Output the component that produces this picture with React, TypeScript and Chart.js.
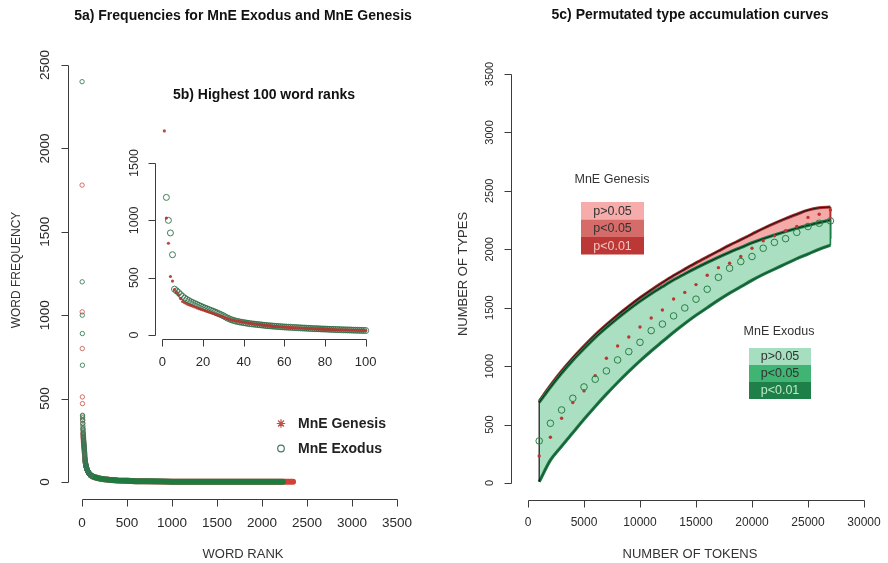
import React, { useEffect, useRef } from "react";
import { Chart, registerables } from "chart.js";

Chart.register(...registerables);

const W = 888;
const H = 563;
const SANS = '"Liberation Sans", Arial, Helvetica, sans-serif';

// ---------- 5a / 5b: rank-frequency profiles ----------
const exodusTop100 = [
  2400, 1200, 1000, 890, 700, 400, 385, 370, 352, 336,
  322, 310, 300, 290, 282, 274, 266, 258, 250, 242,
  235, 228, 221, 214, 207, 200, 192, 184, 176, 168,
  158, 148, 140, 133, 127, 122, 118, 114, 111, 108,
  105, 102, 99, 97, 95, 93, 91, 89, 87, 85,
  83, 81, 80, 78, 77, 75, 74, 73, 71, 70,
  69, 68, 67, 66, 65, 64, 63, 62, 61, 60,
  59, 58, 57, 56, 55, 55, 54, 53, 52, 52,
  51, 50, 49, 49, 48, 47, 47, 46, 45, 45,
  44, 44, 43, 42, 42, 41, 41, 40, 40, 39,
];
const genesisTop100 = [
  1780, 1020, 800, 510, 470, 395, 372, 350, 318, 292,
  282, 272, 264, 258, 251, 244, 237, 230, 224, 218,
  212, 206, 200, 194, 188, 182, 176, 170, 164, 158,
  150, 143, 137, 132, 128, 124, 120, 117, 114, 111,
  108, 105, 102, 99, 96, 94, 92, 90, 88, 86,
  84, 82, 80, 78, 76, 75, 73, 72, 70, 69,
  68, 66, 65, 64, 63, 62, 61, 60, 59, 58,
  57, 56, 55, 55, 54, 53, 52, 52, 51, 50,
  50, 49, 48, 48, 47, 46, 46, 45, 45, 44,
  44, 43, 43, 42, 42, 41, 41, 40, 40, 39,
];
// long tail beyond rank 100 (rank, frequency)
const exodusTailRank = [100, 120, 150, 200, 250, 300, 400, 500, 600, 700, 800, 900, 1000, 1200, 1400, 1600, 1800, 2000, 2233];
const exodusTailFreq = [39, 33, 27, 20, 16, 13, 9, 7, 5, 4, 4, 3, 2, 2, 1, 1, 1, 1, 1];
const genesisTailRank = [100, 120, 150, 200, 250, 300, 400, 500, 600, 700, 800, 900, 1000, 1200, 1400, 1600, 1800, 2000, 2200, 2345];
const genesisTailFreq = [39, 33, 27, 21, 16, 13, 9, 7, 5, 4, 3, 3, 2, 2, 1, 1, 1, 1, 1, 1];

const rankTicks = [0, 500, 1000, 1500, 2000, 2500, 3000, 3500];
const freqTicks = [0, 500, 1000, 1500, 2000, 2500];
const insetRankTicks = [0, 20, 40, 60, 80, 100];
const insetFreqTicks = [0, 500, 1000, 1500];

// ---------- 5c: permutated type accumulation ----------
const tokens = [
  1000, 2000, 3000, 4000, 5000, 6000, 7000, 8000, 9000, 10000,
  11000, 12000, 13000, 14000, 15000, 16000, 17000, 18000, 19000, 20000,
  21000, 22000, 23000, 24000, 25000, 26000, 27000,
];
const exodusTypes = [
  360, 511, 625, 725, 822, 888, 959, 1053, 1124, 1204,
  1304, 1360, 1430, 1498, 1573, 1658, 1760, 1838, 1895, 1938,
  2009, 2059, 2091, 2145, 2195, 2223, 2243,
];
const genesisTypes = [
  231, 391, 554, 688, 788, 919, 1067, 1173, 1250, 1335,
  1412, 1481, 1575, 1631, 1698, 1778, 1843, 1881, 1938, 2009,
  2072, 2115, 2158, 2195, 2273, 2300, 2337,
];
const exodusUpper = [
  690, 820, 940, 1050, 1150, 1245, 1330, 1410, 1485, 1555,
  1620, 1680, 1738, 1790, 1840, 1887, 1932, 1975, 2015, 2055,
  2090, 2122, 2152, 2180, 2205, 2228, 2250,
];
const exodusLower = [
  10, 195, 315, 430, 545, 655, 760, 860, 955, 1045,
  1130, 1210, 1290, 1365, 1435, 1500, 1565, 1625, 1680, 1735,
  1785, 1830, 1875, 1920, 1960, 2000, 2035,
];
const genesisUpper = [
  700, 835, 958, 1070, 1172, 1268, 1355, 1437, 1513, 1585,
  1652, 1715, 1775, 1830, 1884, 1935, 1985, 2035, 2082, 2130,
  2178, 2222, 2263, 2300, 2335, 2355, 2362,
];
const genesisLower = [
  60, 250, 375, 490, 600, 710, 815, 915, 1010, 1100,
  1185, 1265, 1345, 1420, 1490, 1555, 1620, 1680, 1735, 1790,
  1840, 1885, 1930, 1975, 2015, 2055, 2090,
];
const tokenTicks = [0, 5000, 10000, 15000, 20000, 25000, 30000];
const typeTicks = [0, 500, 1000, 1500, 2000, 2500, 3000, 3500];
const pLevels = ["p>0.05", "p<0.05", "p<0.01"];
const genesisLevelColors = ["rgb(246,172,170)", "rgb(214,108,106)", "rgb(188,56,54)"];
const exodusLevelColors = ["rgb(166,222,192)", "rgb(64,180,114)", "rgb(30,128,72)"];

// ---------- colours ----------
const AXIS_COL = "#3c3c3c";
const TEXT_COL = "#2a2a2a";
const RED_PT = "rgba(200,80,72,0.8)";
const GREEN_PT = "rgba(50,120,84,0.85)";
const RED_BAND = "rgb(206,66,56)";
const GREEN_BAND = "rgb(32,122,64)";
const EX_FILL = "rgb(170,223,193)";
const EX_EDGE = "rgb(30,122,70)";
const GEN_FILL = "rgb(244,170,168)";
const GEN_EDGE = "rgb(168,48,48)";
const OUTLINE = "rgba(18,18,18,0.85)";

const xy = (xs: number[], ys: number[]) => xs.map((x, i) => ({ x, y: ys[i] }));
const ranks = (vals: number[]) => vals.map((_, i) => i + 1);

type Label = {
  text: string;
  x: number;
  y: number;
  font: string;
  color?: string;
  rotate?: boolean;
  align?: CanvasTextAlign;
};

function drawLabels(ctx: CanvasRenderingContext2D, labels: Label[]) {
  for (const l of labels) {
    ctx.save();
    ctx.font = l.font;
    ctx.fillStyle = l.color || TEXT_COL;
    ctx.textAlign = l.align || "center";
    ctx.textBaseline = "middle";
    ctx.translate(l.x, l.y);
    if (l.rotate) ctx.rotate(-Math.PI / 2);
    ctx.fillText(l.text, 0, 0);
    ctx.restore();
  }
}

type AxisOpts = {
  xTicks: number[];
  yTicks: number[];
  xFont: string;
  yFont: string;
  xOff: number;
  yOff: number;
  tick?: number;
};

// base-graphics style axes: line spans the tick range only, ticks point outward
function drawAxes(chart: any, o: AxisOpts) {
  const { ctx, chartArea: a } = chart;
  const xs = chart.scales.x;
  const ys = chart.scales.y;
  const t = o.tick ?? 7;
  ctx.save();
  ctx.strokeStyle = AXIS_COL;
  ctx.lineWidth = 1;
  const yb = Math.round(a.bottom) + 0.5;
  const xl = Math.round(a.left) - 0.5;
  ctx.beginPath();
  ctx.moveTo(Math.round(xs.getPixelForValue(o.xTicks[0])) + 0.5, yb);
  ctx.lineTo(Math.round(xs.getPixelForValue(o.xTicks[o.xTicks.length - 1])) + 0.5, yb);
  for (const v of o.xTicks) {
    const px = Math.round(xs.getPixelForValue(v)) + 0.5;
    ctx.moveTo(px, yb);
    ctx.lineTo(px, yb + t);
  }
  ctx.moveTo(xl, Math.round(ys.getPixelForValue(o.yTicks[0])) + 0.5);
  ctx.lineTo(xl, Math.round(ys.getPixelForValue(o.yTicks[o.yTicks.length - 1])) + 0.5);
  for (const v of o.yTicks) {
    const py = Math.round(ys.getPixelForValue(v)) + 0.5;
    ctx.moveTo(xl, py);
    ctx.lineTo(xl - t, py);
  }
  ctx.stroke();
  ctx.restore();
  drawLabels(
    ctx,
    o.xTicks.map((v) => ({ text: String(v), x: xs.getPixelForValue(v), y: a.bottom + o.xOff, font: o.xFont })),
  );
  drawLabels(
    ctx,
    o.yTicks.map((v) => ({ text: String(v), x: a.left - o.yOff, y: ys.getPixelForValue(v), font: o.yFont, rotate: true })),
  );
}

// linear scale whose value range maps onto the given pixel span of the chart area
function linScale(v0: number, p0: number, v1: number, p1: number, lo: number, hi: number, vertical: boolean) {
  const ppu = (p1 - p0) / (v1 - v0);
  let min: number, max: number;
  if (!vertical) {
    min = v0 - (p0 - lo) / ppu;
    max = v1 + (hi - p1) / ppu;
  } else {
    // pixel decreases as the value grows: lo = bottom pixel, hi = top pixel
    min = v0 - (lo - p0) / -ppu;
    max = v1 + (p1 - hi) / -ppu;
  }
  return { type: "linear" as const, min, max, display: false };
}

const baseOptions = (pad: { left: number; right: number; top: number; bottom: number }, x: any, y: any) => ({
  responsive: false,
  animation: false as const,
  events: [] as any[],
  layout: { padding: { left: pad.left, right: W - pad.right, top: pad.top, bottom: H - pad.bottom } },
  scales: { x, y },
  plugins: { legend: { display: false }, tooltip: { enabled: false } },
});

// ---------- 5a: full rank-frequency plot ----------
function mainConfig(): any {
  const area = { left: 69, right: 410, top: 48, bottom: 499 };
  return {
    type: "scatter",
    data: {
      datasets: [
        {
          data: xy(ranks(exodusTop100), exodusTop100),
          pointStyle: "circle",
          pointRadius: 2.2,
          pointBorderWidth: 1,
          pointBorderColor: GREEN_PT,
          pointBackgroundColor: "rgba(0,0,0,0)",
          order: 1,
        },
        {
          data: xy(ranks(genesisTop100), genesisTop100),
          pointStyle: "circle",
          pointRadius: 2.2,
          pointBorderWidth: 1,
          pointBorderColor: RED_PT,
          pointBackgroundColor: "rgba(0,0,0,0)",
          order: 2,
        },
        {
          data: xy(exodusTailRank, exodusTailFreq),
          showLine: true,
          borderColor: GREEN_BAND,
          borderWidth: 6,
          borderCapStyle: "round",
          pointRadius: 0,
          order: 3,
        },
        {
          data: xy(genesisTailRank, genesisTailFreq),
          showLine: true,
          borderColor: RED_BAND,
          borderWidth: 6,
          borderCapStyle: "round",
          pointRadius: 0,
          order: 4,
        },
      ],
    },
    options: baseOptions(
      area,
      linScale(0, 82, 3500, 397, area.left, area.right, false),
      linScale(0, 482, 2500, 65, area.bottom, area.top, true),
    ),
    plugins: [
      {
        id: "frameMain",
        afterDraw(chart: any) {
          drawAxes(chart, {
            xTicks: rankTicks,
            yTicks: freqTicks,
            xFont: `13.5px ${SANS}`,
            yFont: `13.5px ${SANS}`,
            xOff: 24,
            yOff: 24,
          });
          const ctx = chart.ctx as CanvasRenderingContext2D;
          drawLabels(ctx, [
            { text: "5a) Frequencies for MnE Exodus and MnE Genesis", x: 243, y: 16, font: `bold 14px ${SANS}`, color: "#111" },
            { text: "WORD RANK", x: 243, y: 554, font: `13px ${SANS}`, color: "#333" },
            { text: "WORD FREQUENCY", x: 17, y: 270, font: `12px ${SANS}`, color: "#333", rotate: true },
            { text: "MnE Genesis", x: 298, y: 424, font: `bold 14px ${SANS}`, color: "#222", align: "left" },
            { text: "MnE Exodus", x: 298, y: 449, font: `bold 14px ${SANS}`, color: "#222", align: "left" },
          ]);
          // legend symbols
          ctx.save();
          ctx.strokeStyle = "rgb(190,80,72)";
          ctx.lineWidth = 1.2;
          const cx = 281, cy = 423.5, r = 4.2, d = 3;
          ctx.beginPath();
          ctx.moveTo(cx - r, cy); ctx.lineTo(cx + r, cy);
          ctx.moveTo(cx, cy - r); ctx.lineTo(cx, cy + r);
          ctx.moveTo(cx - d, cy - d); ctx.lineTo(cx + d, cy + d);
          ctx.moveTo(cx - d, cy + d); ctx.lineTo(cx + d, cy - d);
          ctx.stroke();
          ctx.strokeStyle = "rgb(70,120,95)";
          ctx.beginPath();
          ctx.arc(281, 448.5, 3.3, 0, Math.PI * 2);
          ctx.stroke();
          ctx.restore();
        },
      },
    ],
  };
}

// ---------- 5b: inset, top 100 ranks ----------
function insetConfig(): any {
  const area = { left: 156.3, right: 373.8, top: 123, bottom: 339 };
  return {
    type: "scatter",
    data: {
      datasets: [
        {
          data: xy(ranks(genesisTop100), genesisTop100),
          pointStyle: "circle",
          pointRadius: 1.6,
          pointBorderWidth: 0,
          pointBackgroundColor: "rgba(180,52,48,0.9)",
          order: 1,
        },
        {
          data: xy(ranks(exodusTop100), exodusTop100),
          pointStyle: "circle",
          pointRadius: 3,
          pointBorderWidth: 1,
          pointBorderColor: "rgba(45,112,72,0.9)",
          pointBackgroundColor: "rgba(0,0,0,0)",
          order: 2,
        },
      ],
    },
    options: baseOptions(
      area,
      linScale(0, 162.3, 100, 365.7, area.left, area.right, false),
      linScale(0, 335, 1500, 163, area.bottom, area.top, true),
    ),
    plugins: [
      {
        id: "frameInset",
        afterDraw(chart: any) {
          drawAxes(chart, {
            xTicks: insetRankTicks,
            yTicks: insetFreqTicks,
            xFont: `13px ${SANS}`,
            yFont: `12.5px ${SANS}`,
            xOff: 23,
            yOff: 22,
          });
          drawLabels(chart.ctx, [
            { text: "5b) Highest 100 word ranks", x: 264, y: 95, font: `bold 14px ${SANS}`, color: "#111" },
          ]);
        },
      },
    ],
  };
}

// ---------- 5c: accumulation curves with permutation envelopes ----------
function accumConfig(): any {
  const area = { left: 512, right: 877, top: 57.6, bottom: 500 };
  const edge = (data: any[], color: string, width: number, order: number) => ({
    data,
    borderColor: color,
    borderWidth: width,
    pointRadius: 0,
    fill: false,
    tension: 0,
    order,
  });
  const first = 0;
  const last = tokens.length - 1;
  return {
    type: "line",
    data: {
      datasets: [
        // points
        {
          data: xy(tokens, exodusTypes),
          showLine: false,
          pointStyle: "circle",
          pointRadius: 3.3,
          pointBorderWidth: 1,
          pointBorderColor: "rgb(40,128,70)",
          pointBackgroundColor: "rgba(0,0,0,0)",
          order: 0,
        },
        {
          data: xy(tokens, genesisTypes),
          showLine: false,
          pointStyle: "circle",
          pointRadius: 1.7,
          pointBorderWidth: 0,
          pointBackgroundColor: "rgb(192,52,48)",
          order: 1,
        },
        // Genesis envelope (underneath)
        {
          data: xy(tokens, genesisUpper),
          borderColor: GEN_EDGE,
          borderWidth: 3,
          pointRadius: 0,
          cubicInterpolationMode: "monotone",
          fill: { target: 3 },
          backgroundColor: GEN_FILL,
          order: 12,
        },
        {
          data: xy(tokens, genesisLower),
          borderColor: "rgba(0,0,0,0)",
          borderWidth: 0,
          pointRadius: 0,
          cubicInterpolationMode: "monotone",
          fill: false,
          order: 11,
        },
        { ...edge(xy(tokens, genesisUpper), OUTLINE, 1.1, 10), cubicInterpolationMode: "monotone" },
        edge(
          [
            { x: tokens[last], y: genesisLower[last] },
            { x: tokens[last], y: genesisUpper[last] },
          ],
          GEN_EDGE,
          2,
          10,
        ),
        // Exodus envelope
        {
          data: xy(tokens, exodusUpper),
          borderColor: EX_EDGE,
          borderWidth: 3.2,
          pointRadius: 0,
          cubicInterpolationMode: "monotone",
          fill: { target: 7 },
          backgroundColor: EX_FILL,
          order: 8,
        },
        {
          data: xy(tokens, exodusLower),
          borderColor: EX_EDGE,
          borderWidth: 3.2,
          pointRadius: 0,
          cubicInterpolationMode: "monotone",
          fill: false,
          order: 7,
        },
        { ...edge(xy(tokens, exodusUpper), OUTLINE, 1, 6), cubicInterpolationMode: "monotone" },
        { ...edge(xy(tokens, exodusLower), "rgba(18,60,36,0.8)", 0.8, 6), cubicInterpolationMode: "monotone" },
        edge(
          [
            { x: tokens[first], y: exodusLower[first] },
            { x: tokens[first], y: genesisUpper[first] },
          ],
          OUTLINE,
          1.4,
          5,
        ),
        edge(
          [
            { x: tokens[last], y: exodusLower[last] },
            { x: tokens[last], y: exodusUpper[last] },
          ],
          EX_EDGE,
          1.6,
          5,
        ),
      ],
    },
    options: baseOptions(
      area,
      linScale(0, 528, 30000, 864, area.left, area.right, false),
      linScale(0, 483, 3500, 74, area.bottom, area.top, true),
    ),
    plugins: [
      {
        id: "frameAccum",
        afterDraw(chart: any) {
          drawAxes(chart, {
            xTicks: tokenTicks,
            yTicks: typeTicks,
            xFont: `12px ${SANS}`,
            yFont: `11px ${SANS}`,
            xOff: 23,
            yOff: 22,
          });
          const ctx = chart.ctx as CanvasRenderingContext2D;
          drawLabels(ctx, [
            { text: "5c) Permutated type accumulation curves", x: 690, y: 15, font: `bold 14px ${SANS}`, color: "#111" },
            { text: "NUMBER OF TOKENS", x: 690, y: 554, font: `13px ${SANS}`, color: "#333" },
            { text: "NUMBER OF TYPES", x: 463, y: 274, font: `13px ${SANS}`, color: "#333", rotate: true },
          ]);
          // significance legends
          const legend = (title: string, cx: number, ty: number, x0: number, x1: number, rows: number[], colors: string[], lastText: string) => {
            drawLabels(ctx, [{ text: title, x: cx, y: ty, font: `12.5px ${SANS}`, color: "#333" }]);
            for (let i = 0; i < pLevels.length; i++) {
              ctx.fillStyle = colors[i];
              ctx.fillRect(x0, rows[i], x1 - x0, rows[i + 1] - rows[i]);
            }
            drawLabels(
              ctx,
              pLevels.map((p, i) => ({
                text: p,
                x: (x0 + x1) / 2,
                y: (rows[i] + rows[i + 1]) / 2 + 0.5,
                font: `12.5px ${SANS}`,
                color: i === pLevels.length - 1 ? lastText : "#333",
              })),
            );
          };
          legend("MnE Genesis", 612, 180, 581, 644, [202, 219.5, 237, 254.5], genesisLevelColors, "rgb(240,196,194)");
          legend("MnE Exodus", 779, 332, 749, 811, [348, 365, 382, 399], exodusLevelColors, "rgb(188,232,204)");
        },
      },
    ],
  };
}

function ChartCanvas({ make }: { make: () => any }) {
  const ref = useRef<HTMLCanvasElement | null>(null);
  useEffect(() => {
    if (!ref.current) return;
    const chart = new Chart(ref.current, make());
    return () => chart.destroy();
  }, [make]);
  return (
    <canvas
      ref={ref}
      width={W}
      height={H}
      style={{ position: "absolute", left: 0, top: 0, width: W, height: H }}
    />
  );
}

export default function App() {
  return (
    <div style={{ position: "absolute", left: 0, top: 0, width: W, height: H, background: "#fff", overflow: "hidden" }}>
      <ChartCanvas make={mainConfig} />
      <ChartCanvas make={insetConfig} />
      <ChartCanvas make={accumConfig} />
    </div>
  );
}
